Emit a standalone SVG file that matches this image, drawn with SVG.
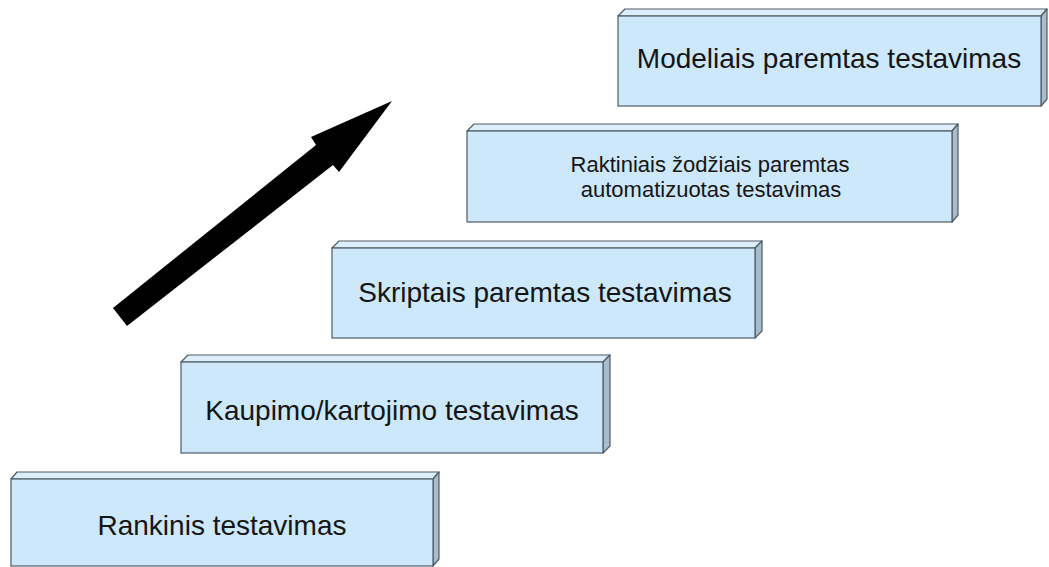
<svg xmlns="http://www.w3.org/2000/svg" width="1049" height="567" viewBox="0 0 1049 567">
<style>
.front{fill:#cce8fa;stroke:#4f5b64;stroke-width:1.2}
.top{fill:#dceef9;stroke:#4f5b64;stroke-width:1.2;stroke-linejoin:round}
.side{fill:#a8bdcb;stroke:#4f5b64;stroke-width:1.2;stroke-linejoin:round}
.lbl{font-family:"Liberation Sans",Arial,sans-serif;font-size:28px;fill:#151515;text-anchor:middle}
.sm{font-size:22px}
</style>
<rect width="1049" height="567" fill="#ffffff"/>
<g id="connectors">
<polygon points="113,308 316,145 311,137 392,101 339,172 333,165 127,326" fill="#000000"/>
</g>
<g id="node-rankinis">
<polygon class="top" points="11,479 17,472 439,472 433,479"/>
<polygon class="side" points="433,479 439,472 439,559 433,566"/>
<rect class="front" x="11" y="479" width="422" height="87"/>
<text class="lbl" x="222" y="535">Rankinis testavimas</text>
</g>
<g id="node-kaupimo">
<polygon class="top" points="181,362 188,355 610,355 603,362"/>
<polygon class="side" points="603,362 610,355 610,446 603,453"/>
<rect class="front" x="181" y="362" width="422" height="91"/>
<text class="lbl" x="392" y="420">Kaupimo/kartojimo testavimas</text>
</g>
<g id="node-skriptais">
<polygon class="top" points="332,248 339,241 762,241 755,248"/>
<polygon class="side" points="755,248 762,241 762,331 755,338"/>
<rect class="front" x="332" y="248" width="423" height="90"/>
<text class="lbl" x="545" y="302">Skriptais paremtas testavimas</text>
</g>
<g id="node-raktiniais">
<polygon class="top" points="467,131 474,124 958,124 952,131"/>
<polygon class="side" points="952,131 958,124 958,215 952,222"/>
<rect class="front" x="467" y="131" width="485" height="91"/>
<text class="lbl sm" x="710" y="172">Raktiniais žodžiais paremtas</text>
<text class="lbl sm" x="711" y="197">automatizuotas testavimas</text>
</g>
<g id="node-modeliais">
<polygon class="top" points="618,16 625,9 1047,9 1041,16"/>
<polygon class="side" points="1041,16 1047,9 1047,99 1041,106"/>
<rect class="front" x="618" y="16" width="423" height="90"/>
<text class="lbl" x="829" y="68">Modeliais paremtas testavimas</text>
</g>
</svg>
